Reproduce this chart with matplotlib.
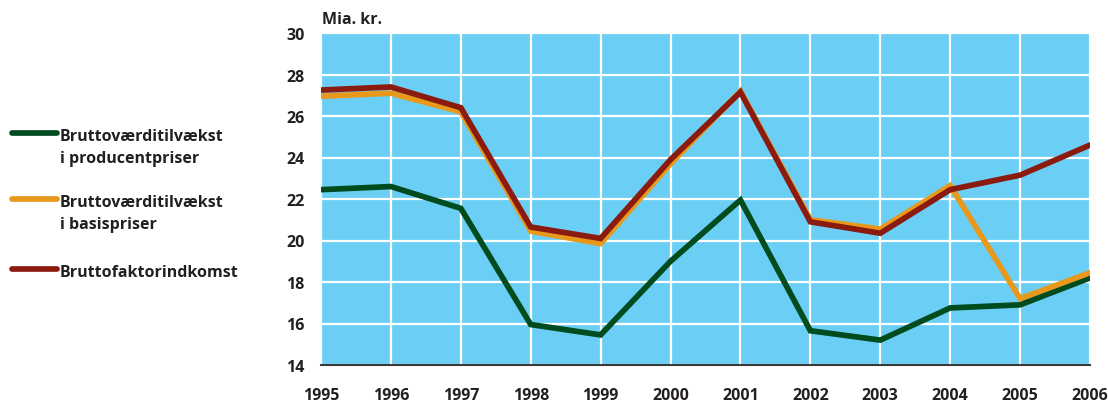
import matplotlib
matplotlib.use("Agg")
import matplotlib.pyplot as plt
from matplotlib.lines import Line2D

plt.rcParams['font.family'] = ['Open Sans', 'DejaVu Sans']

years = [1995, 1996, 1997, 1998, 1999, 2000, 2001, 2002, 2003, 2004, 2005, 2006]
producentpriser = [22.45, 22.6, 21.55, 15.95, 15.45, 19.0, 21.95, 15.65, 15.2, 16.75, 16.9, 18.2]
basispriser = [26.95, 27.1, 26.2, 20.45, 19.85, 23.7, 27.2, 21.0, 20.55, 22.65, 17.2, 18.45]
faktorindkomst = [27.25, 27.4, 26.4, 20.65, 20.1, 23.9, 27.15, 20.9, 20.35, 22.45, 23.15, 24.6]
labels = ["Bruttoværditilvækst\ni producentpriser",
          "Bruttoværditilvækst\ni basispriser",
          "Bruttofaktorindkomst"]
yticks = [14, 16, 18, 20, 22, 24, 26, 28, 30]

c_green = '#004C1E'
c_orange = '#E8991C'
c_red = '#8C1B0F'
c_bg = '#6BCFF5'
c_text = '#231F20'

fig = plt.figure(figsize=(11.08, 4.02), dpi=100)
ax = fig.add_axes([321/1108, 1-366/402, (1090-321)/1108, (366-34)/402])
ax.set_facecolor(c_bg)

for x in years:
    ax.axvline(x, color='white', lw=1.6, zorder=1)
for y in yticks:
    ax.axhline(y, color='white', lw=1.6, zorder=1)

ax.plot(years, producentpriser, color=c_green, lw=4.1, zorder=3, solid_joinstyle='miter')
ax.plot(years, basispriser, color=c_orange, lw=4.1, zorder=3, solid_joinstyle='miter')
ax.plot(years, faktorindkomst, color=c_red, lw=4.1, zorder=4, solid_joinstyle='miter')

ax.set_xlim(1995, 2006)
ax.set_ylim(14, 30)
ax.set_xticks(years)
ax.set_xticklabels([str(y) for y in years])
ax.set_yticks(yticks)
for s in ['top', 'right', 'left']:
    ax.spines[s].set_visible(False)
ax.spines['bottom'].set_color('#3a3a3a')
ax.spines['bottom'].set_linewidth(1.5)
ax.spines['bottom'].set_zorder(5)
ax.tick_params(axis='both', length=0, labelsize=11.5, colors=c_text)
ax.tick_params(axis='x', pad=16)
ax.tick_params(axis='y', pad=12)
for t in ax.get_xticklabels() + ax.get_yticklabels():
    t.set_fontweight('bold')

fig.text(322/1108, 1-20/402, "Mia. kr.", fontsize=11.5, fontweight='bold', color=c_text, va='center', ha='left')

leg_items = [(c_green, labels[0], 134), (c_orange, labels[1], 200), (c_red, labels[2], 270)]
for col, lab, ypx in leg_items:
    fig.add_artist(Line2D([12/1108, 57/1108], [1-ypx/402, 1-ypx/402], color=col, lw=4.1, solid_capstyle='round'))
    fig.text(60/1108, 1-(ypx-5)/402, lab, fontsize=11.5, fontweight='bold', color=c_text,
             va='top', ha='left', linespacing=1.5)

fig.savefig('out.png', dpi=100)
